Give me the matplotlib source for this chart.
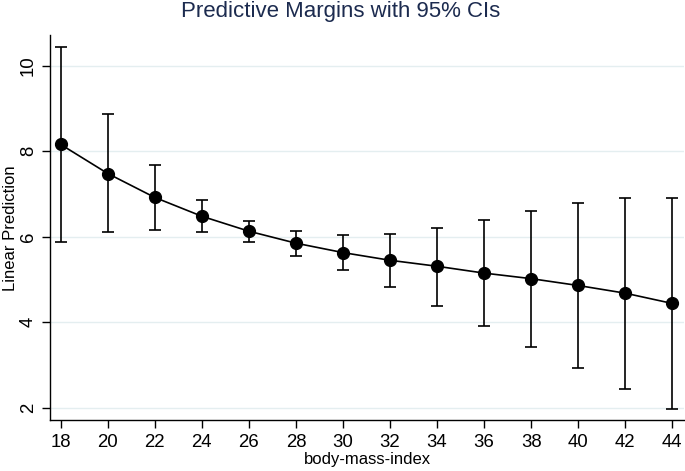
import matplotlib
matplotlib.use("Agg")
import matplotlib.pyplot as plt

plt.rcParams['font.family'] = ['Liberation Sans', 'DejaVu Sans']

# body-mass-index values and predicted margins with 95% CIs
bmi = [18, 20, 22, 24, 26, 28, 30, 32, 34, 36, 38, 40, 42, 44]
margin = [8.16, 7.48, 6.92, 6.48, 6.13, 5.85, 5.63, 5.45, 5.31, 5.15, 5.02, 4.86, 4.68, 4.44]
ci_low = [5.87, 6.10, 6.16, 6.10, 5.88, 5.56, 5.22, 4.82, 4.39, 3.91, 3.42, 2.93, 2.44, 1.96]
ci_high = [10.44, 8.88, 7.69, 6.86, 6.37, 6.13, 6.03, 6.06, 6.20, 6.40, 6.61, 6.80, 6.91, 6.91]

fig = plt.figure(figsize=(6.85, 4.71), dpi=100)
ax = fig.add_axes([0.073, 0.1076, 0.9255, 0.818])

err_lo = [m - l for m, l in zip(margin, ci_low)]
err_hi = [h - m for m, h in zip(margin, ci_high)]
ax.errorbar(bmi, margin, yerr=[err_lo, err_hi], fmt='none', ecolor='black',
            elinewidth=1.2, capsize=4.3, capthick=1.2, zorder=2)
ax.plot(bmi, margin, color='black', lw=1.2, marker='o', markersize=8.5, zorder=3)

ax.set_xlim(17.545, 44.5)
ax.set_ylim(1.705, 10.72)
ax.set_xticks(bmi)
ax.set_yticks([2, 4, 6, 8, 10])
ax.grid(axis='y', color='#e4eef0', lw=1.0)
ax.set_axisbelow(True)

for s in ['top', 'right']:
    ax.spines[s].set_visible(False)
for s in ['left', 'bottom']:
    ax.spines[s].set_linewidth(1.0)

ax.tick_params(axis='both', length=6, width=1.0, labelsize=13.4, direction='out')
for lab in ax.get_yticklabels():
    lab.set_rotation(90)
    lab.set_va('center')

ax.set_xlabel('body-mass-index', fontsize=12, labelpad=1)
fig.text(0.0155, 0.5165, 'Linear Prediction', rotation=90, ha='center', va='center',
         fontsize=12)
fig.text(0.497, 0.9646, 'Predictive Margins with 95% CIs', ha='center', va='baseline',
         fontsize=16, color='#1c2b4f')

fig.savefig('out.png', dpi=100)
